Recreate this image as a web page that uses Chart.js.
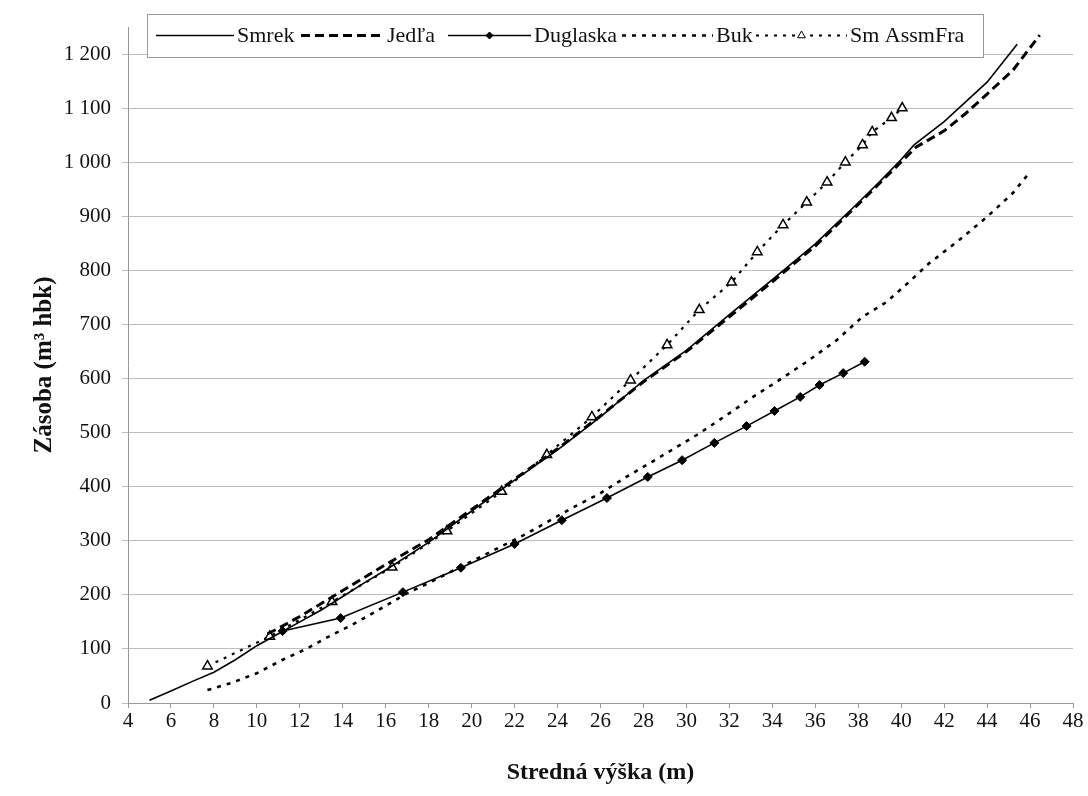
<!DOCTYPE html>
<html lang="sk">
<head>
<meta charset="utf-8">
<title>Zásoba podľa strednej výšky</title>
<script src="https://cdn.jsdelivr.net/npm/chart.js@4.4.1/dist/chart.umd.min.js"></script>
<style>
    html, body { margin: 0; padding: 0; background: #fff; }
    #wrap { width: 1088px; height: 796px; }
</style>
</head>
<body>
<div id="wrap"><canvas id="stockChart" width="1088" height="796"></canvas></div>
<script>
// Values (x = stredná výška in m, y = zásoba in m3 hbk)
const seriesNames = ['Smrek', 'Jedľa', 'Duglaska', 'Buk', 'Sm AssmFra'];

const smrekX = [5, 6, 7, 8, 9, 10, 11, 12, 13, 14, 15, 16, 18, 20, 22, 24, 26, 28, 30, 32, 34, 36, 38, 39, 40, 40.6, 42, 44, 45.4];
const smrekY = [5, 22, 40, 57, 80, 106, 128, 150, 172, 197, 222, 246, 297, 355, 412, 468, 529, 596, 652, 718, 783, 849, 925, 964, 1005, 1032, 1075, 1148, 1218];

const jedlaX = [10.5, 11, 12, 13, 14, 15, 16, 18, 20, 22, 24, 26, 28, 30, 32, 34, 36, 38, 39.3, 40.7, 42, 43, 44, 45.2, 46.45];
const jedlaY = [128, 138, 160, 184, 208, 232, 256, 302, 358, 414, 470, 531, 594, 650, 714, 779, 845, 922, 973, 1028, 1058, 1090, 1126, 1170, 1235];

const duglaskaX = [11.2, 13.9, 16.8, 19.5, 22.0, 24.2, 26.3, 28.2, 29.8, 31.3, 32.8, 34.1, 35.3, 36.2, 37.3, 38.3];
const duglaskaY = [133, 157, 205, 250, 294, 338, 379, 418, 449, 481, 512, 540, 566, 588, 610, 631];

const bukX = [7.7, 8.8, 10, 11.2, 12.3, 13.4, 14.4, 15.4, 17, 18, 19.5, 21, 22.6, 24.6, 26, 27.2, 28.4, 30.5, 31.9, 33.1, 34.2, 35.6, 37, 38.2, 39.3, 40.3, 41.3, 42.7, 44, 45.2, 46];
const bukY = [24, 37, 55, 80, 100, 124, 144, 166, 203, 222, 252, 282, 314, 359, 388, 418, 446, 496, 533, 566, 594, 631, 671, 714, 741, 776, 813, 856, 899, 943, 982];

const assmX = [7.7, 10.6, 13.5, 16.3, 18.85, 21.4, 23.5, 25.6, 27.4, 29.1, 30.6, 32.1, 33.3, 34.5, 35.6, 36.55, 37.4, 38.2, 38.65, 39.55, 40.05];
const assmY = [68, 123, 187, 251, 318, 391, 459, 529, 597, 662, 727, 778, 834, 884, 926, 963, 1000, 1032, 1056, 1082, 1100];

const xTicks = { min: 4, max: 48, step: 2 };
const yTicks = { min: 0, max: 1200, step: 100 };

function toPoints(xs, ys) {
    return xs.map((x, i) => ({ x: x, y: ys[i] }));
}

function spaced(value) {
    return String(value).replace(/\B(?=(\d{3})+(?!\d))/g, ' ');
}

const serif = '"Liberation Serif", "Times New Roman", serif';
Chart.defaults.font.family = serif;
Chart.defaults.color = '#111';

// legend drawn by hand so the line samples match the original box
const keyPlugin = {
    id: 'seriesKey',
    afterDraw(chart) {
        const ctx = chart.ctx;
        const box = { left: 147, top: 14, right: 983, bottom: 57 };
        const midY = (box.top + box.bottom) / 2;
        const items = [
            { from: 156, to: 234, text: 237 },
            { from: 301, to: 384, text: 387 },
            { from: 448, to: 531, text: 534 },
            { from: 622, to: 713, text: 716 },
            { from: 756, to: 847, text: 850 }
        ];

        ctx.save();
        ctx.fillStyle = '#fff';
        ctx.fillRect(box.left, box.top, box.right - box.left, box.bottom - box.top);
        ctx.strokeStyle = '#9a9a9a';
        ctx.lineWidth = 1;
        ctx.strokeRect(box.left + 0.5, box.top + 0.5, box.right - box.left, box.bottom - box.top);

        chart.data.datasets.forEach((ds, i) => {
            const it = items[i];
            ctx.save();
            ctx.strokeStyle = '#000';
            ctx.lineWidth = ds.borderWidth;
            ctx.setLineDash(ds.borderDash || []);
            ctx.beginPath();
            ctx.moveTo(it.from, midY);
            ctx.lineTo(it.to, midY);
            ctx.stroke();
            ctx.restore();
            if (ds.pointRadius > 0) {
                ctx.save();
                ctx.fillStyle = ds.pointBackgroundColor;
                ctx.strokeStyle = '#000';
                Chart.helpers.drawPoint(ctx, {
                    pointStyle: ds.pointStyle,
                    radius: ds.pointRadius - 1,
                    borderWidth: ds.pointBorderWidth,
                    rotation: 0
                }, (it.from + it.to) / 2, midY);
                ctx.restore();
            }
            ctx.fillStyle = '#111';
            ctx.font = '22px ' + serif;
            ctx.textBaseline = 'middle';
            ctx.fillText(ds.label, it.text, midY + 1);
        });
        ctx.restore();
    }
};

const ctx = document.getElementById('stockChart').getContext('2d');
new Chart(ctx, {
    type: 'line',
    data: {
        datasets: [
            {
                label: seriesNames[0],
                data: toPoints(smrekX, smrekY),
                borderColor: '#000',
                borderWidth: 1.6,
                pointRadius: 0
            },
            {
                label: seriesNames[1],
                data: toPoints(jedlaX, jedlaY),
                borderColor: '#000',
                borderWidth: 3,
                borderDash: [9, 5],
                pointRadius: 0
            },
            {
                label: seriesNames[2],
                data: toPoints(duglaskaX, duglaskaY),
                borderColor: '#000',
                borderWidth: 1.6,
                pointStyle: 'rectRot',
                pointRadius: 4.5,
                pointBackgroundColor: '#000',
                pointBorderColor: '#000',
                pointBorderWidth: 1
            },
            {
                label: seriesNames[3],
                data: toPoints(bukX, bukY),
                borderColor: '#000',
                borderWidth: 2.6,
                borderDash: [4, 6],
                pointRadius: 0
            },
            {
                label: seriesNames[4],
                data: toPoints(assmX, assmY),
                borderColor: '#000',
                borderWidth: 2.2,
                borderDash: [3, 6],
                pointStyle: 'triangle',
                pointRadius: 5.5,
                pointBackgroundColor: '#fff',
                pointBorderColor: '#000',
                pointBorderWidth: 1.5
            }
        ]
    },
    options: {
        responsive: false,
        animation: false,
        parsing: false,
        layout: { padding: { top: 27, right: 15, bottom: 0, left: 0 } },
        plugins: {
            legend: { display: false },
            tooltip: { enabled: false }
        },
        elements: { line: { tension: 0, fill: false } },
        scales: {
            x: {
                type: 'linear',
                min: xTicks.min,
                max: xTicks.max,
                ticks: {
                    stepSize: xTicks.step,
                    autoSkip: false,
                    maxRotation: 0,
                    padding: 1,
                    color: '#111',
                    font: { size: 21 }
                },
                grid: { drawOnChartArea: false, tickLength: 5, color: '#999' },
                border: { color: '#999' },
                title: {
                    display: true,
                    text: 'Stredná výška (m)',
                    color: '#111',
                    font: { size: 24, weight: 'bold' },
                    padding: { top: 0, bottom: 9 }
                },
                afterFit: scale => { scale.height = 93; }
            },
            y: {
                type: 'linear',
                min: yTicks.min,
                max: 1250,
                ticks: {
                    stepSize: yTicks.step,
                    padding: 11,
                    color: '#111',
                    font: { size: 21 },
                    callback: value => spaced(value)
                },
                afterBuildTicks: scale => {
                    scale.ticks = scale.ticks.filter(t => t.value <= yTicks.max);
                },
                grid: { color: '#bdbdbd', tickLength: 6 },
                border: { color: '#999' },
                title: {
                    display: true,
                    text: 'Zásoba (m³ hbk)',
                    color: '#111',
                    font: { size: 25, weight: 'bold' },
                    padding: { top: 30, bottom: 0 }
                },
                afterFit: scale => { scale.width = 128; }
            }
        }
    },
    plugins: [keyPlugin]
});
</script>
</body>
</html>
